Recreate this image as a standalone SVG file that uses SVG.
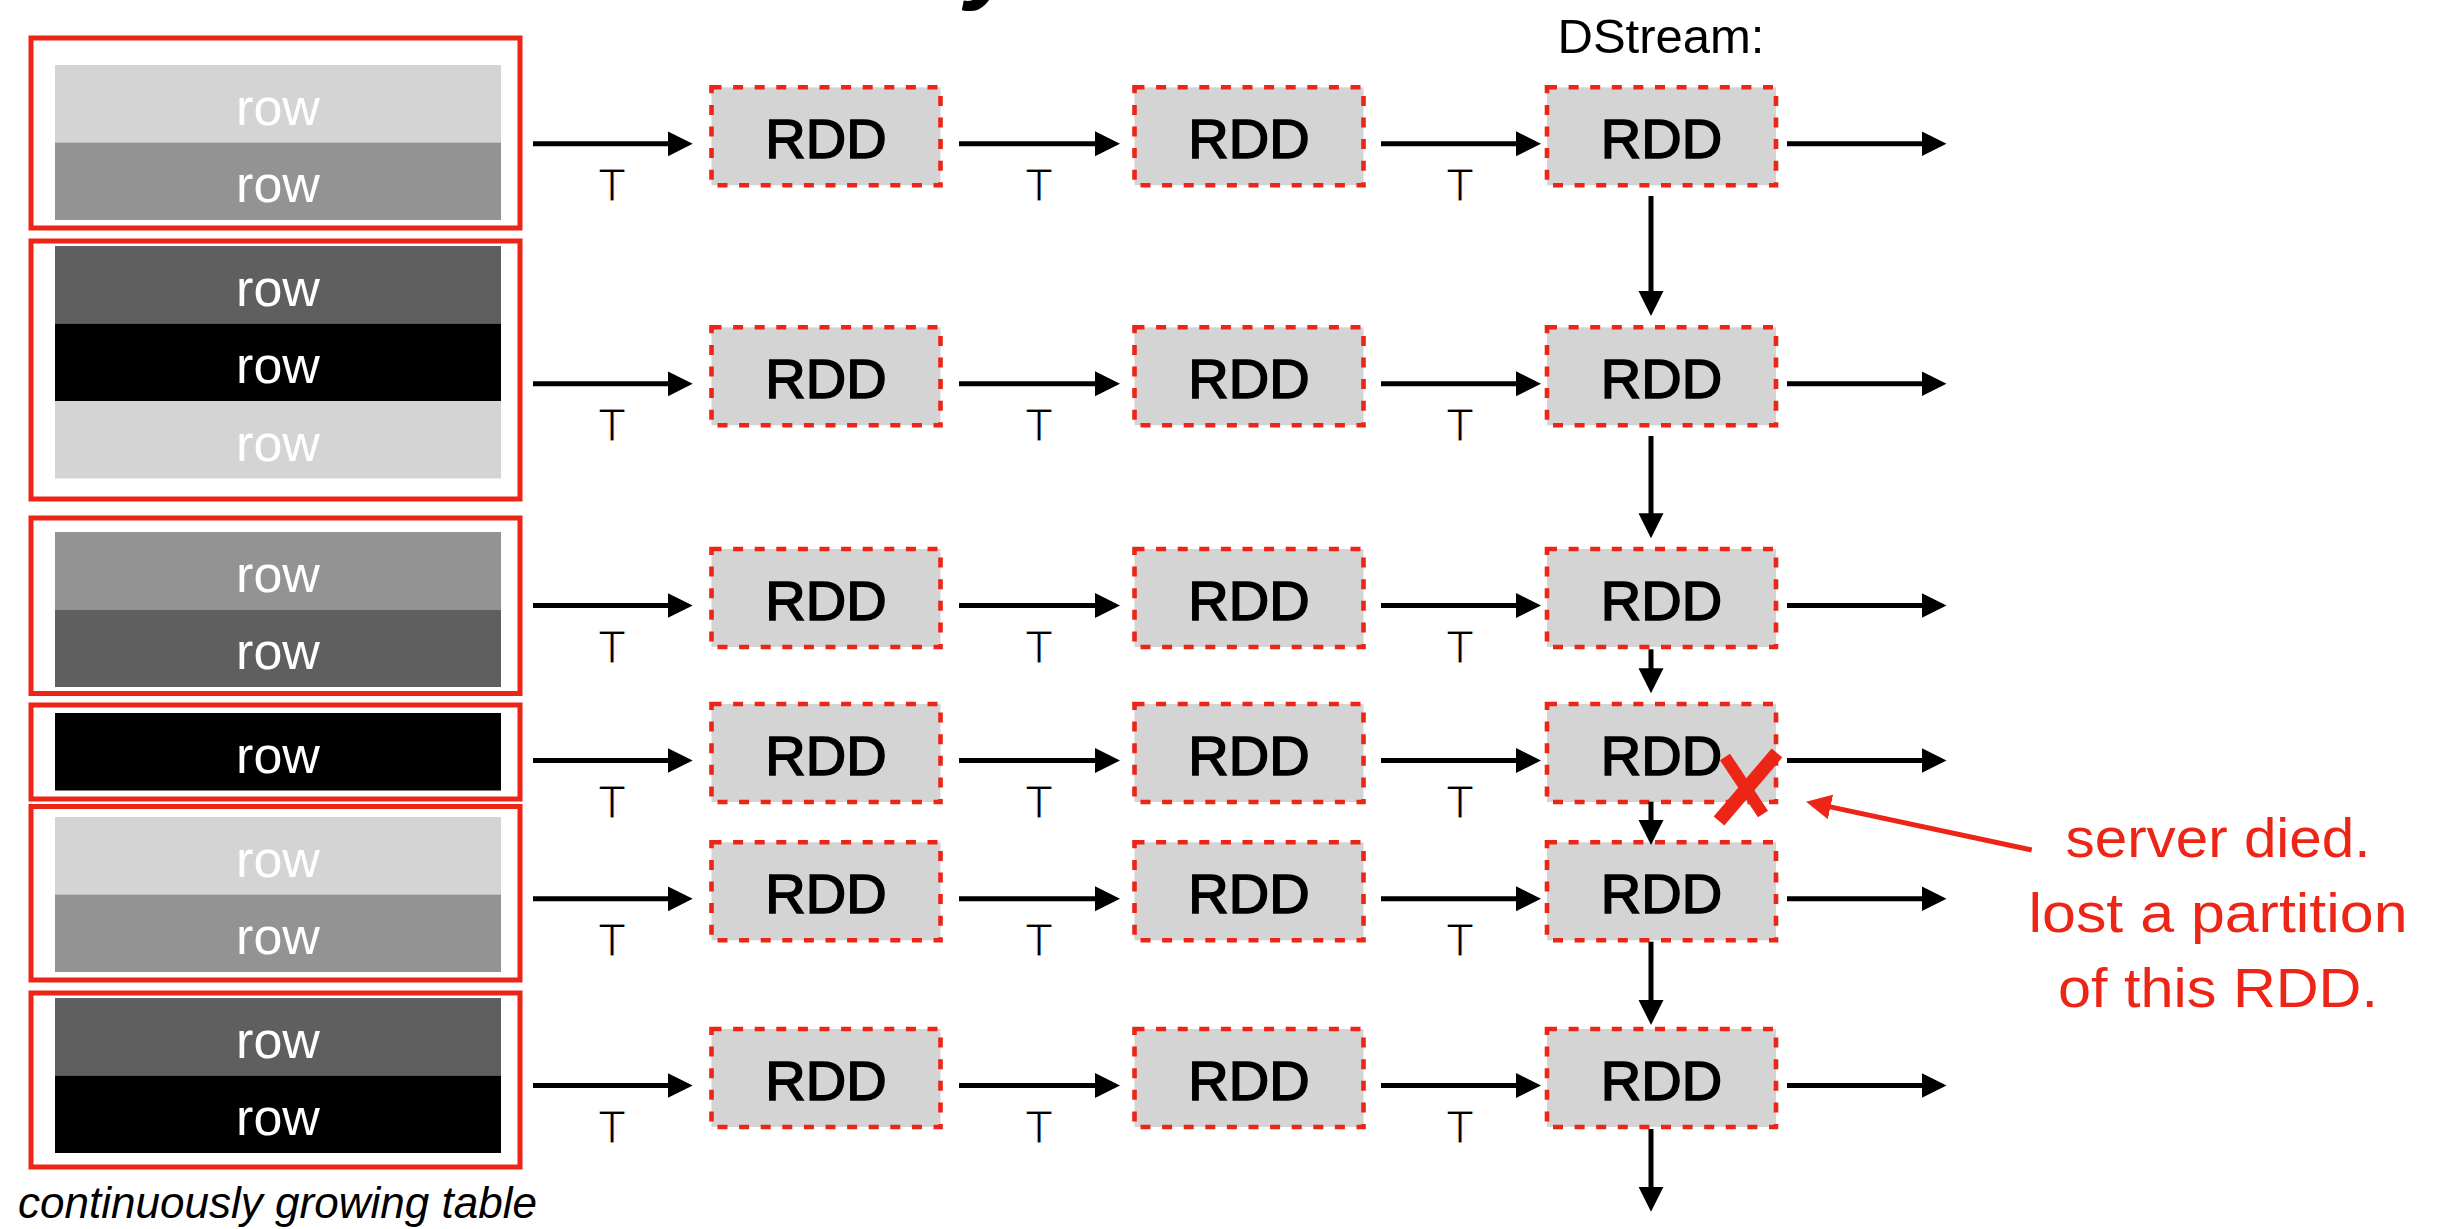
<svg xmlns="http://www.w3.org/2000/svg" width="2438" height="1229" viewBox="0 0 2438 1229">
<style>
.tbl{fill:none;stroke:#ec2516;stroke-width:5}
.lt{fill:#d4d4d4}.md{fill:#939393}.dk{fill:#5f5f5f}.bk{fill:#000}
.rowt{font-family:"Liberation Sans",Arial,sans-serif;font-size:52px;fill:#fff;text-anchor:middle}
.rdd{fill:#d4d4d4;stroke:#ec2516;stroke-width:4.6;stroke-dasharray:10 11.6}
.rddt{font-family:"Liberation Sans",Arial,sans-serif;font-size:56px;fill:#000;stroke:#000;stroke-width:1.6;text-anchor:middle}
.tl{font-family:"Liberation Sans",Arial,sans-serif;font-size:46px;fill:#000;stroke:#fff;stroke-width:1.2;text-anchor:middle}
.ar{fill:none;stroke:#000;stroke-width:5;marker-end:url(#ah)}
.rd{font-family:"Liberation Sans",Arial,sans-serif;font-size:55px;fill:#ec2516;text-anchor:middle}
</style>
<defs>
<marker id="ah" markerUnits="userSpaceOnUse" markerWidth="26" markerHeight="26" refX="5" refY="12.5" orient="auto">
<path d="M0,0 L25,12.5 L0,25 z" fill="#000"/>
</marker>
<marker id="rah" markerUnits="userSpaceOnUse" markerWidth="27" markerHeight="27" refX="5" refY="12.5" orient="auto">
<path d="M0,0 L25,12.5 L0,25 z" fill="#ec2516"/>
</marker>
</defs>
<rect width="2438" height="1229" fill="#fff"/>
<text id="title-fragment" x="966" y="-10" font-family="Liberation Sans,Arial,sans-serif" font-size="100" font-weight="bold" font-style="italic">y</text>

<g id="table">
<g id="slice1">
<rect class="lt" x="55" y="65" width="446" height="77.5"/><rect class="md" x="55" y="142.5" width="446" height="77.5"/>
<text class="rowt" x="278" y="124.5">row</text><text class="rowt" x="278" y="202">row</text>
<rect class="tbl" x="31" y="38" width="489" height="190"/>
</g>
<g id="slice2">
<rect class="dk" x="55" y="246" width="446" height="77.5"/><rect class="bk" x="55" y="323.5" width="446" height="77.5"/><rect class="lt" x="55" y="401" width="446" height="77.5"/>
<text class="rowt" x="278" y="305.5">row</text><text class="rowt" x="278" y="383">row</text><text class="rowt" x="278" y="460.5">row</text>
<rect class="tbl" x="31" y="241" width="489" height="258"/>
</g>
<g id="slice3">
<rect class="md" x="55" y="532" width="446" height="77.5"/><rect class="dk" x="55" y="609.5" width="446" height="77.5"/>
<text class="rowt" x="278" y="591.5">row</text><text class="rowt" x="278" y="669">row</text>
<rect class="tbl" x="31" y="518" width="489" height="175.5"/>
</g>
<g id="slice4">
<rect class="bk" x="55" y="713" width="446" height="77.5"/>
<text class="rowt" x="278" y="772.5">row</text>
<rect class="tbl" x="31" y="705" width="489" height="94"/>
</g>
<g id="slice5">
<rect class="lt" x="55" y="817" width="446" height="77.5"/><rect class="md" x="55" y="894.5" width="446" height="77.5"/>
<text class="rowt" x="278" y="876.5">row</text><text class="rowt" x="278" y="954">row</text>
<rect class="tbl" x="31" y="806.5" width="489" height="173.5"/>
</g>
<g id="slice6">
<rect class="dk" x="55" y="998" width="446" height="77.5"/><rect class="bk" x="55" y="1075.5" width="446" height="77.5"/>
<text class="rowt" x="278" y="1057.5">row</text><text class="rowt" x="278" y="1135">row</text>
<rect class="tbl" x="31" y="993" width="489" height="174"/>
</g>
<text id="caption" x="18" y="1218" font-family="Liberation Sans,Arial,sans-serif" font-size="45" font-style="italic" textLength="519" lengthAdjust="spacingAndGlyphs">continuously growing table</text>
</g>

<text id="dstream-label" x="1661" y="53" font-family="Liberation Sans,Arial,sans-serif" font-size="49" text-anchor="middle">DStream:</text>

<g id="rdds">
<g id="rdd-1-1"><rect class="rdd" x="711.5" y="87.3" width="229" height="98"/><text class="rddt" x="826" y="157.8">RDD</text></g>
<g id="rdd-1-2"><rect class="rdd" x="1134.5" y="87.3" width="229" height="98"/><text class="rddt" x="1249" y="157.8">RDD</text></g>
<g id="rdd-1-3"><rect class="rdd" x="1547" y="87.3" width="229" height="98"/><text class="rddt" x="1661.5" y="157.8">RDD</text></g>
<g id="rdd-2-1"><rect class="rdd" x="711.5" y="327.3" width="229" height="98"/><text class="rddt" x="826" y="397.8">RDD</text></g>
<g id="rdd-2-2"><rect class="rdd" x="1134.5" y="327.3" width="229" height="98"/><text class="rddt" x="1249" y="397.8">RDD</text></g>
<g id="rdd-2-3"><rect class="rdd" x="1547" y="327.3" width="229" height="98"/><text class="rddt" x="1661.5" y="397.8">RDD</text></g>
<g id="rdd-3-1"><rect class="rdd" x="711.5" y="549" width="229" height="98"/><text class="rddt" x="826" y="619.5">RDD</text></g>
<g id="rdd-3-2"><rect class="rdd" x="1134.5" y="549" width="229" height="98"/><text class="rddt" x="1249" y="619.5">RDD</text></g>
<g id="rdd-3-3"><rect class="rdd" x="1547" y="549" width="229" height="98"/><text class="rddt" x="1661.5" y="619.5">RDD</text></g>
<g id="rdd-4-1"><rect class="rdd" x="711.5" y="704" width="229" height="98"/><text class="rddt" x="826" y="774.5">RDD</text></g>
<g id="rdd-4-2"><rect class="rdd" x="1134.5" y="704" width="229" height="98"/><text class="rddt" x="1249" y="774.5">RDD</text></g>
<g id="rdd-4-3"><rect class="rdd" x="1547" y="704" width="229" height="98"/><text class="rddt" x="1661.5" y="774.5">RDD</text></g>
<g id="rdd-5-1"><rect class="rdd" x="711.5" y="842.3" width="229" height="98"/><text class="rddt" x="826" y="912.8">RDD</text></g>
<g id="rdd-5-2"><rect class="rdd" x="1134.5" y="842.3" width="229" height="98"/><text class="rddt" x="1249" y="912.8">RDD</text></g>
<g id="rdd-5-3"><rect class="rdd" x="1547" y="842.3" width="229" height="98"/><text class="rddt" x="1661.5" y="912.8">RDD</text></g>
<g id="rdd-6-1"><rect class="rdd" x="711.5" y="1029" width="229" height="98"/><text class="rddt" x="826" y="1099.5">RDD</text></g>
<g id="rdd-6-2"><rect class="rdd" x="1134.5" y="1029" width="229" height="98"/><text class="rddt" x="1249" y="1099.5">RDD</text></g>
<g id="rdd-6-3"><rect class="rdd" x="1547" y="1029" width="229" height="98"/><text class="rddt" x="1661.5" y="1099.5">RDD</text></g>
</g>

<g id="connectors">
<path class="ar" d="M533,143.8H672.7"/><path class="ar" d="M959,143.8H1100"/><path class="ar" d="M1381,143.8H1521"/><path class="ar" d="M1787,143.8H1926.5"/>
<path class="ar" d="M533,383.8H672.7"/><path class="ar" d="M959,383.8H1100"/><path class="ar" d="M1381,383.8H1521"/><path class="ar" d="M1787,383.8H1926.5"/>
<path class="ar" d="M533,605.5H672.7"/><path class="ar" d="M959,605.5H1100"/><path class="ar" d="M1381,605.5H1521"/><path class="ar" d="M1787,605.5H1926.5"/>
<path class="ar" d="M533,760.5H672.7"/><path class="ar" d="M959,760.5H1100"/><path class="ar" d="M1381,760.5H1521"/><path class="ar" d="M1787,760.5H1926.5"/>
<path class="ar" d="M533,898.8H672.7"/><path class="ar" d="M959,898.8H1100"/><path class="ar" d="M1381,898.8H1521"/><path class="ar" d="M1787,898.8H1926.5"/>
<path class="ar" d="M533,1085.5H672.7"/><path class="ar" d="M959,1085.5H1100"/><path class="ar" d="M1381,1085.5H1521"/><path class="ar" d="M1787,1085.5H1926.5"/>
<path class="ar" d="M1651,196V296"/>
<path class="ar" d="M1651,436V518.3"/>
<path class="ar" d="M1651,649.3V673.3"/>
<path class="ar" d="M1651,801.7V825"/>
<path class="ar" d="M1651,941.7V1005"/>
<path class="ar" d="M1651,1129V1191.7"/>
<g id="t-labels">
<text class="tl" x="612" y="200.8">T</text><text class="tl" x="1039" y="200.8">T</text><text class="tl" x="1460" y="200.8">T</text>
<text class="tl" x="612" y="440.8">T</text><text class="tl" x="1039" y="440.8">T</text><text class="tl" x="1460" y="440.8">T</text>
<text class="tl" x="612" y="662.5">T</text><text class="tl" x="1039" y="662.5">T</text><text class="tl" x="1460" y="662.5">T</text>
<text class="tl" x="612" y="817.5">T</text><text class="tl" x="1039" y="817.5">T</text><text class="tl" x="1460" y="817.5">T</text>
<text class="tl" x="612" y="955.8">T</text><text class="tl" x="1039" y="955.8">T</text><text class="tl" x="1460" y="955.8">T</text>
<text class="tl" x="612" y="1142.5">T</text><text class="tl" x="1039" y="1142.5">T</text><text class="tl" x="1460" y="1142.5">T</text>
</g>
</g>

<g id="failure">
<path d="M1777,753 L1719,821" stroke="#ec2516" stroke-width="14" fill="none"/>
<path d="M1725,757 L1763,814" stroke="#ec2516" stroke-width="12" fill="none"/>
<path d="M2031.7,850 L1825.6,805.9" stroke="#ec2516" stroke-width="5" fill="none" marker-end="url(#rah)"/>
<text class="rd" x="2218" y="857" textLength="305" lengthAdjust="spacingAndGlyphs">server died.</text>
<text class="rd" x="2218" y="931.7" textLength="379" lengthAdjust="spacingAndGlyphs">lost a partition</text>
<text class="rd" x="2218" y="1006.7" textLength="320" lengthAdjust="spacingAndGlyphs">of this RDD.</text>
</g>
</svg>
